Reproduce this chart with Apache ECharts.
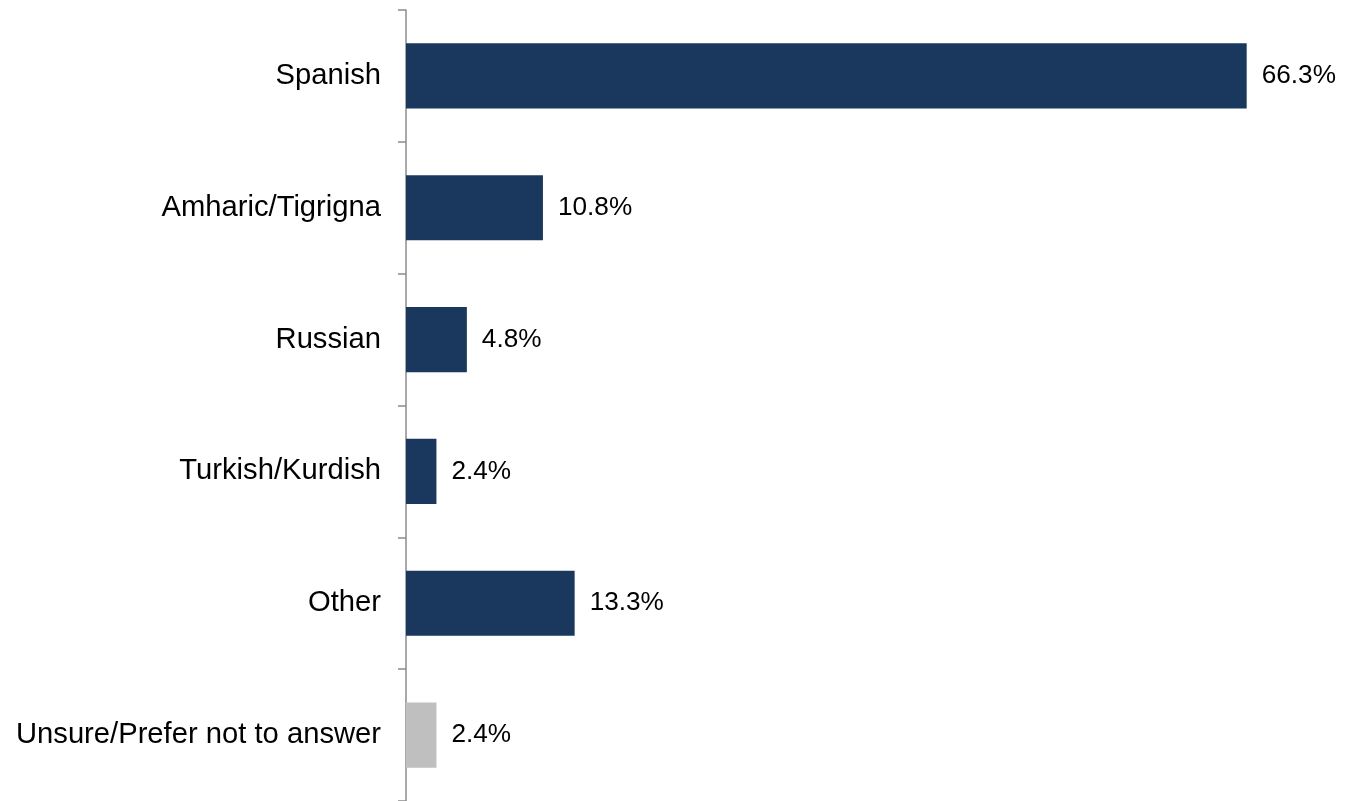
<!DOCTYPE html>
<html>
<head>
<meta charset="utf-8">
<script src="https://cdn.jsdelivr.net/npm/echarts@6/dist/echarts.min.js"></script>
<style>
html,body{margin:0;padding:0;background:#fff;}
#chart{width:1345px;height:801px;}
</style>
</head>
<body>
<div id="chart"></div>
<script>
const categories = ["Spanish", "Amharic/Tigrigna", "Russian", "Turkish/Kurdish", "Other", "Unsure/Prefer not to answer"];
const values = [66.3, 10.8, 4.8, 2.4, 13.3, 2.4];
const mutedCategories = ["Unsure/Prefer not to answer"];

const chart = echarts.init(document.getElementById('chart'));
chart.setOption({
  animation: false,
  grid: { left: 406, top: 10, height: 795, right: 51.4, containLabel: false },
  xAxis: {
    type: 'value', min: 0, max: 70, show: false
  },
  yAxis: {
    type: 'category', data: categories, inverse: true,
    axisLine: { show: true, lineStyle: { color: '#8c8c8c', width: 1.5 } },
    axisTick: { show: true, length: 8, lineStyle: { color: '#8c8c8c', width: 1.5 } },
    axisLabel: { margin: 25, color: '#000', fontSize: 29.2, fontFamily: 'Liberation Sans, Arial, sans-serif' }
  },
  series: [{
    type: 'bar',
    data: values,
    barCategoryGap: '50.6%',
    itemStyle: {
      color: p => mutedCategories.includes(p.name) ? '#bfbfbf' : '#1a375e'
    },
    label: {
      show: true, position: 'right', distance: 15,
      formatter: p => p.value.toFixed(1) + '%',
      color: '#000', fontSize: 26.2, fontFamily: 'Liberation Sans, Arial, sans-serif'
    }
  }]
});
</script>
</body>
</html>
